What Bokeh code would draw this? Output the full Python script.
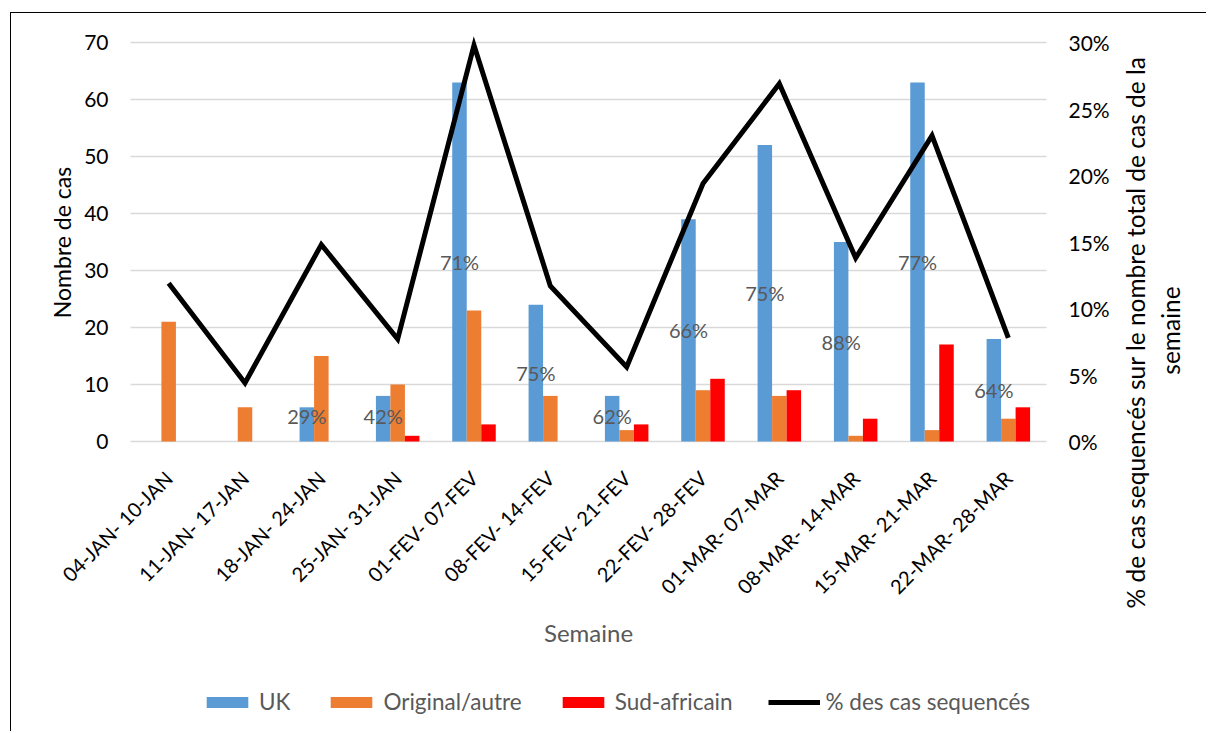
from math import pi
from bokeh.plotting import figure
from bokeh.models import (Range1d, LinearAxis, FixedTicker, NumeralTickFormatter,
                          ColumnDataSource, Legend, LegendItem, Label)
from bokeh.transform import dodge
from bokeh.core.properties import value
from bokeh.embed import file_html
from bokeh.resources import INLINE

# ---------------- data ----------------
weeks = ["04-JAN- 10-JAN", "11-JAN- 17-JAN", "18-JAN- 24-JAN", "25-JAN- 31-JAN",
         "01-FEV- 07-FEV", "08-FEV- 14-FEV", "15-FEV- 21-FEV", "22-FEV- 28-FEV",
         "01-MAR- 07-MAR", "08-MAR- 14-MAR", "15-MAR- 21-MAR", "22-MAR- 28-MAR"]
uk = [0, 0, 6, 8, 63, 24, 8, 39, 52, 35, 63, 18]
original = [21, 6, 15, 10, 23, 8, 2, 9, 8, 1, 2, 4]
sud_africain = [0, 0, 0, 1, 3, 0, 3, 11, 9, 4, 17, 6]
pct_sequences = [0.119, 0.044, 0.148, 0.077, 0.298, 0.117, 0.056, 0.194, 0.269, 0.138, 0.230, 0.078]
uk_share = ["", "", "29%", "42%", "71%", "75%", "62%", "66%", "75%", "88%", "77%", "64%"]
left_ticks = [0, 10, 20, 30, 40, 50, 60, 70]
right_ticks = [0, 0.05, 0.10, 0.15, 0.20, 0.25, 0.30]
y_title = "Nombre de cas"
x_title = "Semaine"
right_title = ["% de cas sequencés sur le nombre total de cas de la", "semaine"]

FONT = "Lato"
GREY = "#595959"

# ---------------- layout (pixels on the page) ----------------
W, H = 1196, 719                 # canvas size
CX0, CY0 = 11, 13                # canvas top-left on the page
PX0, PX1, PY0, PY1 = 130, 1046, 42, 441   # plot band (value area)
n = len(weeks)
Y_MAX, P_MAX = 70, 0.30
ux = (PX1 - PX0) / n             # px per category
uy = (PY1 - PY0) / Y_MAX         # px per case
x_lo = -0.5 - (PX0 - CX0) / ux
x_hi = n - 0.5 + (CX0 + W - PX1) / ux
y_hi = Y_MAX + (PY0 - CY0) / uy
y_lo = -(CY0 + H - PY1) / uy
k = P_MAX / Y_MAX


def sx(page_x):
    return page_x - CX0


def sy(page_y):
    return CY0 + H - page_y


idx = list(range(n))
src = ColumnDataSource(dict(
    idx=idx, uk=uk, original=original, sud=sud_africain, pct=pct_sequences,
    share=uk_share, label_y=[max(v / 2, 4.5) for v in uk],
))

p = figure(x_range=Range1d(x_lo, x_hi), y_range=Range1d(y_lo, y_hi), title=None,
           width=W, height=H, output_backend="svg", toolbar_location=None, min_border=0)
p.margin = (12, 0, 0, 10)
p.styles = {"border-left": "1px solid black", "border-top": "1px solid black"}
p.outline_line_color = None
p.extra_y_ranges = {"pct": Range1d(y_lo * k, y_hi * k)}

# horizontal grid lines across the value band only
p.xgrid.visible = False
p.ygrid.visible = False
p.segment(x0=-0.5, x1=n - 0.5, y0=left_ticks, y1=left_ticks,
          line_color="#d9d9d9", line_width=1.3)

bw = 0.19
r_uk = p.vbar(x=dodge("idx", -bw), top="uk", width=bw, source=src,
              fill_color="#5b9bd5", line_color=None)
r_or = p.vbar(x="idx", top="original", width=bw, source=src,
              fill_color="#ed7d31", line_color=None)
r_sa = p.vbar(x=dodge("idx", bw), top="sud", width=bw, source=src,
              fill_color="#ff0000", line_color=None)

p.text(x=dodge("idx", -bw), y="label_y", text="share", source=src,
       text_align="center", text_baseline="middle", text_font=value(FONT),
       text_font_size="20px", text_color=GREY)

r_line = p.line(x="idx", y="pct", y_range_name="pct", source=src, line_width=5,
                line_color="black", line_join="miter")


def style_axis(ax, size="21px"):
    ax.major_label_text_font = FONT
    ax.major_label_text_font_size = size
    ax.major_label_text_color = "black"
    ax.axis_line_color = None
    ax.major_tick_line_color = None
    ax.minor_tick_line_color = None
    ax.major_tick_out = 0
    ax.major_tick_in = 0
    ax.minor_tick_out = 0
    ax.minor_tick_in = 0


# left axis at the left edge of the categories
ya = p.yaxis[0]
ya.fixed_location = -0.5
ya.ticker = FixedTicker(ticks=left_ticks)
style_axis(ya)
ya.major_label_standoff = 22

# right axis at the right edge of the categories
ra = LinearAxis(y_range_name="pct", fixed_location=n - 0.5, ticker=FixedTicker(ticks=right_ticks),
                formatter=NumeralTickFormatter(format="0%"))
style_axis(ra)
ra.major_label_standoff = 22
p.add_layout(ra, "right")

# bottom axis at y = 0
xa = p.xaxis[0]
xa.fixed_location = 0
xa.ticker = FixedTicker(ticks=idx)
xa.major_label_overrides = {i: w for i, w in zip(idx, weeks)}
style_axis(xa, "20px")
xa.major_label_orientation = pi / 4
xa.major_label_standoff = 33

# axis titles
p.add_layout(Label(x=sx(61), y=sy(242), x_units="screen", y_units="screen", text=y_title,
                   angle=pi / 2, text_align="center", text_baseline="middle", text_font=FONT,
                   text_font_size="23px", text_color="black"))
p.add_layout(Label(x=sx(588), y=sy(632), x_units="screen", y_units="screen", text=x_title,
                   text_align="center", text_baseline="middle", text_font=FONT,
                   text_font_size="24px", text_color=GREY))
for txt, px, py in zip(right_title, [1135, 1170], [332, 330]):
    p.add_layout(Label(x=sx(px), y=sy(py), x_units="screen", y_units="screen", text=txt,
                       angle=pi / 2, text_align="center", text_baseline="middle",
                       text_font=FONT, text_font_size="24.5px", text_color="black"))

legend = Legend(items=[LegendItem(label="UK", renderers=[r_uk]),
                       LegendItem(label="Original/autre", renderers=[r_or]),
                       LegendItem(label="Sud-africain", renderers=[r_sa]),
                       LegendItem(label="% des cas sequencés", renderers=[r_line])],
                orientation="horizontal", location=(sx(207) - 6, 17),
                glyph_width=52, glyph_height=14, label_standoff=6, spacing=35,
                padding=0, margin=0, background_fill_alpha=0, border_line_alpha=0,
                label_text_font=FONT, label_text_font_size="22.5px", label_text_color=GREY)
p.add_layout(legend)

open("out.html", "w").write(file_html(p, INLINE))
